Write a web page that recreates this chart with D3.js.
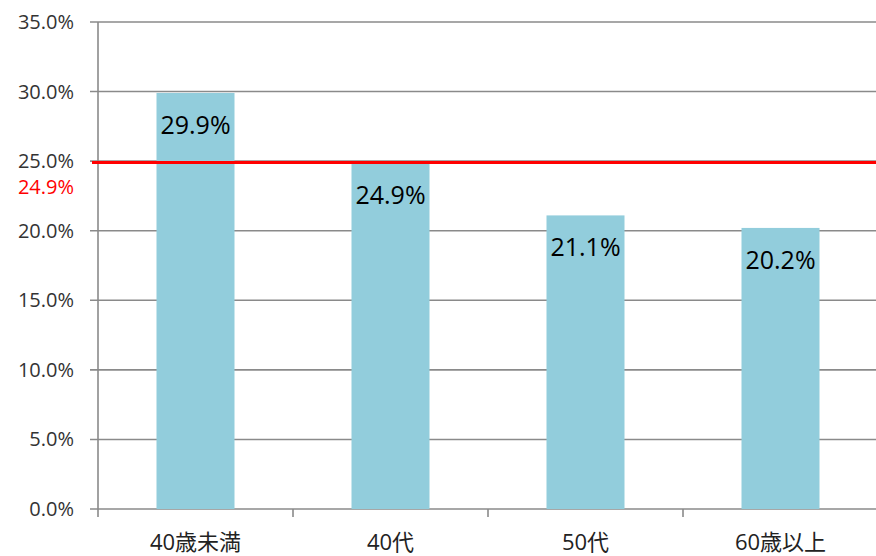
<!DOCTYPE html>
<html>
<head>
<meta charset="utf-8">
<script src="https://cdnjs.cloudflare.com/ajax/libs/d3/7.8.5/d3.min.js"></script>
<style>
  body { margin: 0; background: #fff; }
  svg { display: block; }
</style>
</head>
<body>
<div id="chart"></div>
<script>
// données
const categories = ['40歳未満', '40代', '50代', '60歳以上'];
const values     = [29.9, 24.9, 21.1, 20.2];
const refValue   = 24.9;
const yTicks     = [0, 5, 10, 15, 20, 25, 30, 35];

const W = 876, H = 556;
const m = { top: 22, right: -2, bottom: 47, left: 98 };
const FONT = '"Open Sans", "Noto Sans CJK JP", sans-serif';

const svg = d3.select('#chart').append('svg')
  .attr('width', W).attr('height', H);

const x = d3.scaleBand().domain(categories)
  .range([m.left, W - m.right]).paddingInner(0.6).paddingOuter(0.3);
const y = d3.scaleLinear().domain([0, 35]).range([H - m.bottom, m.top]);

// grille
svg.append('g').selectAll('line')
  .data(yTicks)
  .enter().append('line')
  .attr('x1', m.left - 8).attr('x2', W)
  .attr('y1', d => y(d)).attr('y2', d => y(d))
  .attr('stroke', '#8a8a8a').attr('stroke-width', 1.6);

// axe vertical
svg.append('line')
  .attr('x1', m.left).attr('x2', m.left)
  .attr('y1', y(35)).attr('y2', y(0) + 8)
  .attr('stroke', '#8a8a8a').attr('stroke-width', 1.6);

// ticks catégories
const step = x.step();
svg.append('g').selectAll('line')
  .data(categories.slice(1))
  .enter().append('line')
  .attr('x1', d => x(d) - x.paddingInner() * step / 2)
  .attr('x2', d => x(d) - x.paddingInner() * step / 2)
  .attr('y1', y(0)).attr('y2', y(0) + 8)
  .attr('stroke', '#8a8a8a').attr('stroke-width', 1.6);

// labels Y
svg.append('g').selectAll('text')
  .data(yTicks)
  .enter().append('text')
  .attr('x', 74).attr('y', d => y(d) + 7)
  .attr('text-anchor', 'end')
  .attr('font-family', FONT).attr('font-size', 20)
  .attr('fill', '#333')
  .text(d => d.toFixed(1) + '%');

// barres
svg.append('g').selectAll('rect')
  .data(values)
  .enter().append('rect')
  .attr('x', (d, i) => x(categories[i]))
  .attr('width', x.bandwidth())
  .attr('y', d => y(d))
  .attr('height', d => y(0) - y(d))
  .attr('fill', '#92cddc');

// valeurs
svg.append('g').selectAll('text')
  .data(values)
  .enter().append('text')
  .attr('x', (d, i) => x(categories[i]) + x.bandwidth() / 2)
  .attr('y', d => y(d) + 41)
  .attr('text-anchor', 'middle')
  .attr('font-family', FONT).attr('font-size', 25)
  .attr('fill', '#000')
  .text(d => d.toFixed(1) + '%');

// ligne moyenne
svg.append('line')
  .attr('x1', m.left - 6).attr('x2', W)
  .attr('y1', y(refValue)).attr('y2', y(refValue))
  .attr('stroke', '#ff0000').attr('stroke-width', 3);

svg.append('text')
  .attr('x', 74).attr('y', y(refValue) + 31)
  .attr('text-anchor', 'end')
  .attr('font-family', FONT).attr('font-size', 20)
  .attr('fill', '#ff0000')
  .text(refValue.toFixed(1) + '%');

// labels catégories
svg.append('g').selectAll('text')
  .data(categories)
  .enter().append('text')
  .attr('x', d => x(d) + x.bandwidth() / 2)
  .attr('y', y(0) + 41)
  .attr('text-anchor', 'middle')
  .attr('font-family', FONT).attr('font-size', 22)
  .attr('fill', '#222')
  .text(d => d);
</script>
</body>
</html>
